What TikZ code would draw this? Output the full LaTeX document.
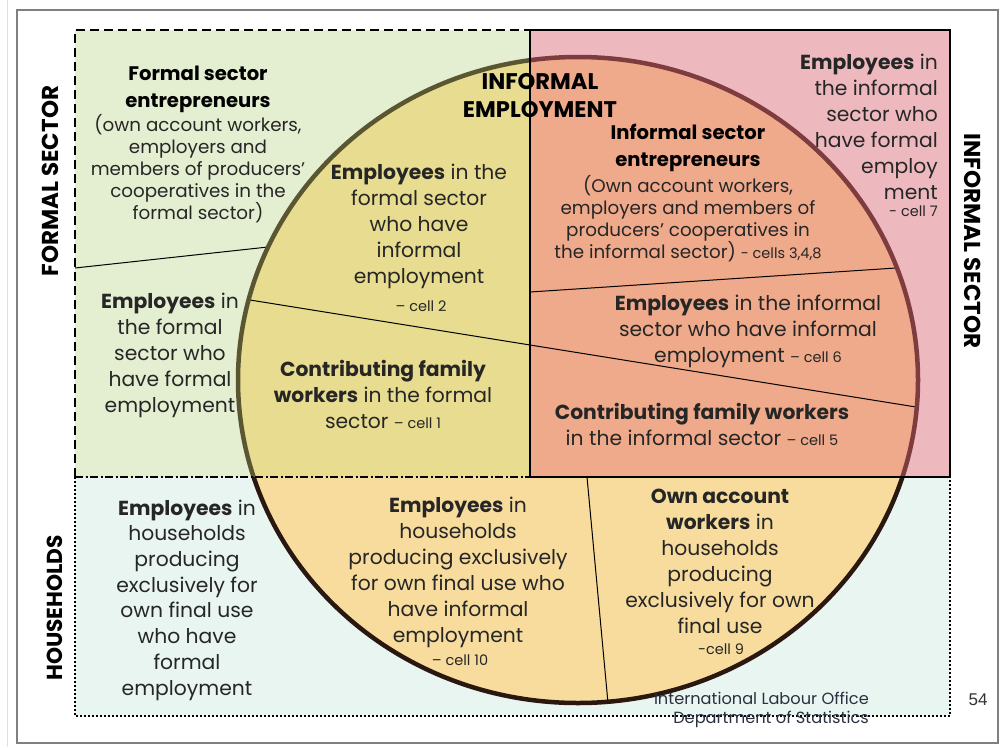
\documentclass[tikz,border=0pt]{standalone}
\usepackage{fontspec}
\setmainfont{Poppins}
\newfontfamily\arialf{Liberation Sans}
\definecolor{fbg}{HTML}{E4EED0}
\definecolor{fcirc}{HTML}{E7DC8F}
\definecolor{ibg}{HTML}{EDB9BE}
\definecolor{icirc}{HTML}{EFA98B}
\definecolor{hbg}{HTML}{E9F5F1}
\definecolor{hcirc}{HTML}{F7DC9D}
\definecolor{fedge}{HTML}{5A5632}
\definecolor{iedge}{HTML}{7E3C3E}
\definecolor{hedge}{HTML}{2A1810}
\definecolor{txtc}{HTML}{262626}
\definecolor{footc}{HTML}{2A3040}
\tikzset{
  body/.style={font=\fontsize{20.3}{26}\selectfont, align=center, inner sep=0pt, text=txtc},
  paren/.style={font=\fontsize{18.3}{22}\selectfont, align=center, inner sep=0pt, text=txtc},
  cellt/.style={font=\fontsize{14.5}{16}\selectfont, inner sep=0pt, text=txtc},
  head/.style={font=\bfseries\fontsize{19.6}{27}\selectfont, align=center, inner sep=0pt, text=black},
  capshead/.style={font=\bfseries\fontsize{22.6}{28}\selectfont, align=center, inner sep=0pt, text=black},
  side/.style={font=\bfseries\fontsize{23}{26}\selectfont, inner sep=0pt, text=black},
  thinline/.style={line width=1pt, black},
}
\newcommand{\cs}[1]{{\fontsize{14.5}{16}\selectfont #1}}
\begin{document}
\begin{tikzpicture}[x=1pt,y=-1pt]
\useasboundingbox (0,0) rectangle (1003,747);
\fill[white] (0,0) rectangle (1003,747);
\draw[line width=1pt, black!12] (7,0) -- (7,747);
\draw[line width=1.5pt, black!50] (17,10) rectangle (998,743);

% regions
\coordinate (FTL) at (75,30);
\coordinate (FBR) at (530,477);
\coordinate (ITL) at (530,30);
\coordinate (IBR) at (950,477);
\coordinate (HTL) at (75,477);
\coordinate (HBR) at (950,716);
\coordinate (C) at (578,380);

\fill[fbg] (FTL) rectangle (FBR);
\fill[ibg] (ITL) rectangle (IBR);
\fill[hbg] (HTL) rectangle (HBR);
\begin{scope}
  \clip (FTL) rectangle (FBR);
  \fill[fcirc] (C) ellipse [x radius=340, y radius=323];
\end{scope}
\begin{scope}
  \clip (ITL) rectangle (IBR);
  \fill[icirc] (C) ellipse [x radius=340, y radius=323];
\end{scope}
\begin{scope}
  \clip (HTL) rectangle (HBR);
  \fill[hcirc] (C) ellipse [x radius=340, y radius=323];
\end{scope}

% dividing lines
\coordinate (l1a) at (75,268);
\coordinate (l1b) at (268,247);
\coordinate (l2a) at (250,300);
\coordinate (l2b) at (916,407);
\coordinate (l3a) at (530,292);
\coordinate (l3b) at (896,268);
\coordinate (l4a) at (587,477);
\coordinate (l4b) at (608,703);
\draw[thinline] (l1a) -- (l1b);
\draw[thinline] (l2a) -- (l2b);
\draw[thinline] (l3a) -- (l3b);
\draw[thinline] (l4a) -- (l4b);

% ellipse outline
\begin{scope}
  \clip (FTL) rectangle (FBR);
  \draw[fedge, line width=4.5pt] (C) ellipse [x radius=340, y radius=323];
\end{scope}
\begin{scope}
  \clip (ITL) rectangle (IBR);
  \draw[iedge, line width=4.5pt] (C) ellipse [x radius=340, y radius=323];
\end{scope}
\begin{scope}
  \clip (HTL) rectangle (HBR);
  \draw[hedge, line width=4.5pt] (C) ellipse [x radius=340, y radius=323];
\end{scope}

% borders
\draw[line width=2.5pt, dash pattern=on 9pt off 5pt] (75,477) -- (FTL) -- (ITL);
\draw[line width=2.5pt, dash pattern=on 8pt off 2.5pt on 2pt off 2.5pt] (HTL) -- (FBR);
\draw[line width=2.2pt, dash pattern=on 2pt off 2pt] (HTL) -- (75,716) -- (HBR) -- (950,477);
\draw[line width=2.5pt] (ITL) rectangle (IBR);

% texts
\node[head] (fse) at (198,89.5) {Formal sector\\entrepreneurs};
\node[paren] (fsep) at (198,169) {(own account workers,\\employers and\\members of producers'\\cooperatives in the\\formal sector)};
\node[capshead] (ie) at (540,96) {INFORMAL\\EMPLOYMENT};
\node[body] (c2) at (419,226) {\textbf{Employees} in the\\formal sector\\who have\\informal\\employment};
\node[cellt] (c2l) at (421,306) {-- cell 2};
\node[body] (efs) at (170,355) {\textbf{Employees} in\\the formal\\sector who\\have formal\\employment};
\node[body] (c1) at (383,394) {\textbf{Contributing family}\\\textbf{workers} in the formal\\sector \cs{-- cell 1}};
\node[body, align=right, anchor=east] (c7) at (938,126.5) {\textbf{Employees} in\\the informal\\sector who\\have formal\\employ\\ment};
\node[cellt, anchor=east] (c7l) at (938,211) {- cell 7};
\node[head] (ise) at (688,148) {Informal sector\\entrepreneurs};
\node[paren] (isep) at (688,219) {(Own account workers,\\employers and members of\\producers' cooperatives in\\the informal sector) \cs{- cells 3,4,8}};
\node[body] (c6) at (748,331) {\textbf{Employees} in the informal\\sector who have informal\\employment \cs{-- cell 6}};
\node[body] (c5) at (702,424.5) {\textbf{Contributing family workers}\\in the informal sector \cs{-- cell 5}};
\node[body, font=\fontsize{20.3}{25.7}\selectfont] (hf) at (187,600) {\textbf{Employees} in\\households\\producing\\exclusively for\\own final use\\who have\\formal\\employment};
\node[body] (c10) at (458,572.5) {\textbf{Employees} in\\households\\producing exclusively\\for own final use who\\have informal\\employment};
\node[cellt] (c10l) at (460,660) {-- cell 10};
\node[body] (c9) at (720,561.5) {\textbf{Own account}\\\textbf{workers} in\\households\\producing\\exclusively for own\\final use};
\node[cellt] (c9l) at (721,649) {-cell 9};
\node[font=\fontsize{16.2}{19}\selectfont, align=right, anchor=east, inner sep=0pt, text=footc] (ilo) at (869,709.5) {International Labour Office\\Department of Statistics};
\node[font=\arialf\fontsize{17}{20}\selectfont, inner sep=0pt, text=black!80] (pg) at (978,700) {54};
\node[side, rotate=90] (fs) at (50,181) {FORMAL SECTOR};
\node[side, rotate=-90] (is) at (973,241) {INFORMAL SECTOR};
\node[side, font=\bfseries\fontsize{21.7}{24}\selectfont, rotate=90] (hh) at (55,608) {HOUSEHOLDS};
\end{tikzpicture}
\end{document}
